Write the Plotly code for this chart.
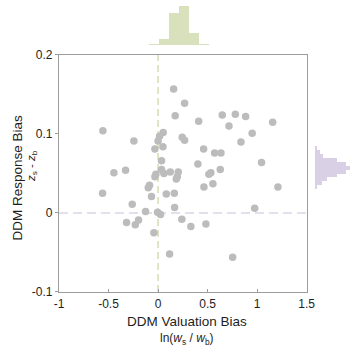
import plotly.graph_objects as go

# ---- data ----
valuation_bias = [0.157, 0.268, 0.173, 0.41, 0.648, 0.78, 0.884, 1.157, 0.716, 0.95,
                  0.837, -0.557, -0.244, 0.052, 0.015, 0.0, -0.032, 0.049, 0.244, 0.268,
                  0.46, 0.571, 0.635, 1.045, 0.035, 0.402, -0.446, -0.328, 0.035, 0.123,
                  0.204, 0.059, -0.022, -0.032, 0.194, 0.184, 0.513, 0.533, 0.628, -0.086,
                  -0.099, 0.463, 0.554, 1.21, -0.56, -0.066, 0.083, 0.164,
                  -0.261, -0.126, -0.005, 0.025, 0.167, -0.318, -0.197, -0.23, 0.24,
                  0.331, 0.483, 0.975, -0.042, 0.116, 0.753]
response_bias = [0.157, 0.139, 0.123, 0.116, 0.124, 0.125, 0.122, 0.115, 0.110, 0.101,
                 0.090, 0.104, 0.091, 0.102, 0.097, 0.091, 0.081, 0.084, 0.096, 0.092,
                 0.081, 0.076, 0.076, 0.064, 0.066, 0.062, 0.051, 0.054, 0.055, 0.052,
                 0.052, 0.050, 0.049, 0.046, 0.046, 0.043, 0.049, 0.051, 0.055, 0.035,
                 0.032, 0.033, 0.037, 0.033, 0.025, 0.021, 0.024, 0.025,
                 0.011, 0.002, 0.001, -0.002, 0.007, -0.012, -0.009, -0.015, -0.008,
                 -0.017, -0.014, 0.006, -0.025, -0.052, -0.056]

top_hist_centers = [-0.04, 0.06, 0.16, 0.26, 0.36, 0.46]
top_hist_counts = [1, 4, 22, 27, 8, 1]

right_hist_centers = [0.0325, 0.0375, 0.0425, 0.0475, 0.0525, 0.0575,
                      0.0625, 0.0675, 0.0725, 0.0775, 0.0825]
right_hist_counts = [1, 4, 7, 13, 19, 22, 19, 13, 5, 3, 1]

x_tickvals = [-1, -0.5, 0, 0.5, 1, 1.5]
x_ticktext = ["-1", "-0.5", "0", "0.5", "1", "1.5"]
y_tickvals = [-0.1, 0, 0.1, 0.2]
y_ticktext = ["-0.1", "0", "0.1", "0.2"]

FONT = "Liberation Sans, Arial, sans-serif"
AXIS_COL = "#9c9c9c"
TEXT_COL = "#1e1e1e"
GREEN = "rgb(216,224,188)"
LAV = "rgb(217,208,230)"

fig = go.Figure()

fig.add_trace(go.Scatter(
    x=valuation_bias, y=response_bias, mode="markers",
    marker=dict(size=7.5, color="rgb(188,188,188)", line=dict(width=0)),
    xaxis="x", yaxis="y", showlegend=False, hoverinfo="skip"))

fig.add_trace(go.Bar(
    x=top_hist_centers, y=top_hist_counts, width=[0.1] * len(top_hist_centers),
    marker=dict(color=GREEN, line=dict(width=0)),
    xaxis="x2", yaxis="y2", showlegend=False, hoverinfo="skip"))

fig.add_trace(go.Bar(
    y=right_hist_centers, x=right_hist_counts, orientation="h",
    width=[0.005] * len(right_hist_centers),
    marker=dict(color=LAV, line=dict(width=0)),
    xaxis="x3", yaxis="y3", showlegend=False, hoverinfo="skip"))

main_x_dom = [0, 0.851]
main_y_dom = [0, 0.8258]

fig.update_layout(
    width=355, height=355,
    margin=dict(l=59, r=5, t=5, b=63, pad=0),
    paper_bgcolor="white", plot_bgcolor="white",
    font=dict(family=FONT, size=12, color=TEXT_COL),
    bargap=0,
    xaxis=dict(domain=main_x_dom, range=[-1, 1.5], tickvals=x_tickvals, ticktext=x_ticktext,
               showline=True, linecolor=AXIS_COL, linewidth=1.2, mirror=True,
               ticks="inside", ticklen=3, tickcolor=AXIS_COL, showgrid=False,
               zeroline=False, anchor="y", automargin=False,
               tickfont=dict(size=12, color=TEXT_COL)),
    yaxis=dict(domain=main_y_dom, range=[-0.1, 0.2], tickvals=y_tickvals, ticktext=y_ticktext,
               showline=True, linecolor=AXIS_COL, linewidth=1.2, mirror=True,
               ticks="outside", ticklen=3, tickcolor=AXIS_COL, showgrid=False,
               zeroline=False, anchor="x", automargin=False,
               tickfont=dict(size=12, color=TEXT_COL)),
    xaxis2=dict(domain=main_x_dom, range=[-1, 1.5], visible=False, anchor="y2",
                showgrid=False, zeroline=False),
    yaxis2=dict(domain=[0.8606, 1.0], range=[0, 27.5], visible=False, anchor="x2",
                showgrid=False, zeroline=False),
    xaxis3=dict(domain=[0.8787, 1.0], range=[0, 21.3], visible=False, anchor="y3",
                showgrid=False, zeroline=False),
    yaxis3=dict(domain=main_y_dom, range=[-0.1, 0.2], visible=False, anchor="x3",
                showgrid=False, zeroline=False),
    shapes=[
        dict(type="line", xref="x", yref="y", x0=0, x1=0, y0=-0.1, y1=0.2,
             line=dict(color="rgb(214,220,178)", width=1.5, dash="7px,4px"), layer="below"),
        dict(type="line", xref="x", yref="y", x0=-1, x1=1.5, y0=0, y1=0,
             line=dict(color="rgb(220,213,232)", width=1.5, dash="9px,5px"), layer="below"),
    ],
    annotations=[
        dict(text="DDM Response Bias", xref="paper", yref="paper",
             x=(17.5 - 59) / 291, y=(292 - 178) / 287, textangle=-90,
             showarrow=False, xanchor="center", yanchor="middle",
             font=dict(size=13.5, color=TEXT_COL)),
        dict(text="<i>z</i><sub>s</sub> - <i>z</i><sub>b</sub>", xref="paper", yref="paper",
             x=(32 - 59) / 291, y=(292 - 166) / 287, textangle=-90,
             showarrow=False, xanchor="center", yanchor="middle",
             font=dict(size=11.5, color=TEXT_COL)),
        dict(text="DDM Valuation Bias", xref="paper", yref="paper",
             x=(186.7 - 59) / 291, y=(292 - 321.7) / 287,
             showarrow=False, xanchor="center", yanchor="middle",
             font=dict(size=13.5, color=TEXT_COL)),
        dict(text="ln(<i>w</i><sub>s</sub> / <i>w</i><sub>b</sub>)", xref="paper", yref="paper",
             x=(186.7 - 59) / 291, y=(292 - 339) / 287,
             showarrow=False, xanchor="center", yanchor="middle",
             font=dict(size=12, color=TEXT_COL)),
    ],
)

fig.write_html("out.html", config={"displayModeBar": False},
               post_script="document.body.style.margin='0';")
